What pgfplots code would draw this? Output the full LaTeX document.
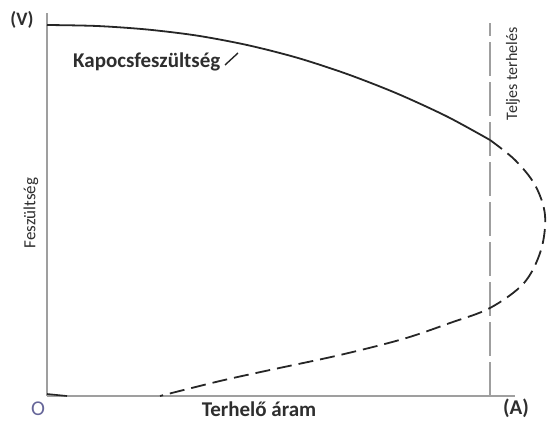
\documentclass[border=0pt]{standalone}
\usepackage{fontspec}
\setmainfont{Carlito}
\usepackage{pgfplots}
\pgfplotsset{compat=1.18}
\definecolor{txt}{HTML}{2E2E2E}
\begin{document}
\begin{tikzpicture}
\begin{axis}[
  scale only axis, width=547pt, height=423pt,
  xmin=-47, xmax=500, ymin=-27, ymax=396,
  hide axis, clip=false,
]
\addplot[draw=none] coordinates {(-47,-27) (500,396)};
% axes
\addplot[gray!75, line width=1.6pt] coordinates {(0,0) (468,0)};
\addplot[gray!75, line width=1.6pt] coordinates {(0,0) (0,383)};
% full load line
\addplot[gray!75, line width=1.4pt, dash pattern=on 34pt off 6pt] coordinates {(443,0) (443,373)};
% solid part
\addplot[black!85, line width=1.8pt, smooth, tension=0.5] coordinates {
(0,371) (50,370) (100,366.5) (150,360.4) (200,351) (250,338.3) (300,322) (350,302.5) (400,279.5) (443,256)};
% dashed part
\addplot[black!85, line width=1.8pt, smooth, tension=0.55, dash pattern=on 15pt off 7pt] coordinates {
(443,256) (468,236) (488,211) (498,181) (494,146) (477,113) (443,88) (403,73) (356,57) (293,41) (223,26) (173,15) (113,0)};
% near origin
\addplot[black!85, line width=1.6pt] coordinates {(0,2) (20,0)};
\node[font=\fontsize{19}{21}\selectfont\bfseries, txt] at (axis cs:-25,376) {(V)};
\node[font=\fontsize{21}{23}\selectfont, gray!80!blue] at (axis cs:-9,-13) {O};
\node[font=\fontsize{21}{23}\selectfont\bfseries, txt] at (axis cs:469,-12) {(A)};
\node[font=\fontsize{21}{23}\selectfont\bfseries, txt, anchor=base] at (axis cs:212,-21) {Terhelő áram};
\node[font=\fontsize{17}{19}\selectfont, txt, rotate=90] at (axis cs:-16,183) {Feszültség};
\node[font=\fontsize{16}{18}\selectfont, txt, rotate=90] at (axis cs:466,322) {Teljes terhelés};
\node[font=\fontsize{21}{23}\selectfont\bfseries, txt, anchor=base west, inner sep=0pt] at (axis cs:26,328) {Kapocsfeszültség};
\draw[black!85, line width=1.4pt] (axis cs:178,331) -- (axis cs:191,343);
\end{axis}
\end{tikzpicture}
\end{document}
